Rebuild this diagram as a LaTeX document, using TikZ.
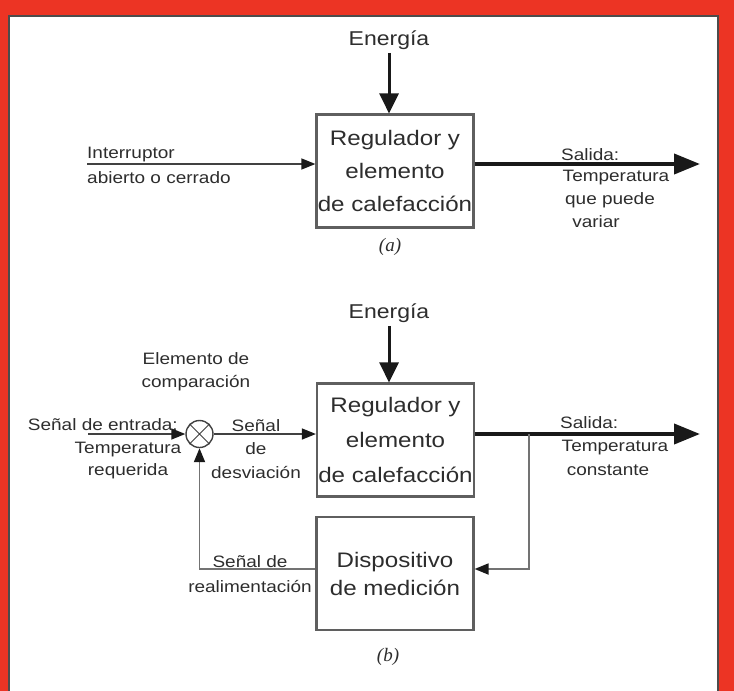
\documentclass[tikz,border=0pt]{standalone}
\usepackage{fontspec}
\setmainfont{Liberation Sans}[FakeStretch=1.15]
\newfontfamily\capfont{Liberation Serif}
\usetikzlibrary{arrows.meta}

\definecolor{framered}{RGB}{236,52,36}
\definecolor{ink}{RGB}{45,45,45}
\definecolor{wire}{RGB}{65,65,65}
\definecolor{boxline}{RGB}{95,95,95}
\definecolor{fbline}{RGB}{115,115,115}

\begin{document}
\begin{tikzpicture}[x=1pt,y=-1pt,
  block/.style={draw=boxline, line width=2.2pt, minimum width=157pt,
    minimum height=113pt, align=center, text=ink, inner sep=0pt},
  lbl/.style={text=ink, font=\fontsize{16.5}{22}\selectfont, inner sep=0pt, align=center},
  energy/.style={text=ink, font=\fontsize{20}{24}\selectfont},
  capt/.style={text=ink, font=\capfont\itshape\fontsize{19}{22}\selectfont},
  tip/.style={-{Triangle[length=14pt,width=11pt,color=black!90]}},
  thinarrow/.style={draw=wire, line width=1.4pt, tip},
  power/.style={draw=black!90, line width=3pt, -{Triangle[length=20pt,width=19pt]}},
  output/.style={draw=black!90, line width=4pt, -{Triangle[length=26pt,width=20pt]}},
  fb/.style={draw=fbline, line width=1.8pt}]

\useasboundingbox (0,0) rectangle (734,691);
\clip (0,0) rectangle (734,691);

% frame and panel
\fill[framered] (0,0) rectangle (734,691);
\filldraw[fill=white, draw=black!70, line width=2pt] (9,16) rectangle (718,700);

% ---------- (a) open loop ----------
\node[block, font=\fontsize{21}{33}\selectfont] (regA) at (395,171)
  {Regulador y\\elemento\\de calefacción};
\node[energy] (enA) at (389,40) {Energía};
\draw[power] (enA.south) -- (enA.south |- regA.north);

\coordinate (inA) at (87,164);
\draw[thinarrow] (inA) -- (inA -| regA.west);
\node[lbl, anchor=west] (swA) at (87,155) {Interruptor};
\node[lbl, anchor=west] (swB) at (87,178) {abierto o cerrado};

\coordinate (outA) at (700,164);
\draw[output] (regA.east |- outA) -- (outA);
\node[lbl, anchor=west] (salA) at (561,155) {Salida:};
\node[lbl] (tA1) at (616,178) {Temperatura};
\node[lbl] (tA2) at (610,200) {que puede};
\node[lbl] (tA3) at (596,222) {variar};

\node[capt] (capA) at (390,247) {(a)};

% ---------- (b) closed loop ----------
\node[block, font=\fontsize{21}{35}\selectfont] (regB) at (395.5,440)
  {Regulador y\\elemento\\de calefacción};
\node[energy] (enB) at (389,313) {Energía};
\draw[power] (enB.south) -- (enB.south |- regB.north);

\node[block, font=\fontsize{21}{28}\selectfont] (meas) at (395,573.5)
  {Dispositivo\\de medición};

% comparison element
\node[circle, draw=wire, line width=1.4pt, minimum size=27pt, inner sep=0pt]
  (sum) at (199.5,434) {};
\draw[wire, line width=1pt] (sum.45) -- (sum.225) (sum.135) -- (sum.315);
\node[lbl, font=\fontsize{16.5}{23}\selectfont] (cmp) at (196,372)
  {Elemento de\\comparación};

\coordinate (inB) at (88,434);
\draw[thinarrow] (inB) -- (sum.west);
\node[lbl, anchor=east] (entr) at (178,425) {Señal de entrada:};
\node[lbl] (treq) at (128,461) {Temperatura\\requerida};

\draw[thinarrow] (sum.east) -- (sum.east -| regB.west);
\node[lbl, font=\fontsize{16.5}{23.5}\selectfont] (desv) at (256,449)
  {Señal\\de\\desviación};

\coordinate (outB) at (700,434);
\draw[output] (regB.east |- outB) -- (outB);
\node[lbl, anchor=west] (salB) at (560,423) {Salida:};
\node[lbl] (tB1) at (615,448) {Temperatura};
\node[lbl] (tB2) at (608,470) {constante};

% feedback path
\coordinate (tap) at (529,434);
\coordinate (tapLow) at (529,569);
\draw[fb, tip] (tap) -- (tapLow) -- (tapLow -| meas.east);
\draw[fb, tip] (meas.west |- tapLow) -- (sum.south |- tapLow) -- (sum.south);
\node[lbl, font=\fontsize{16.5}{25}\selectfont] (real) at (250,574)
  {Señal de\\realimentación};

\node[capt] (capB) at (388,657) {(b)};
\end{tikzpicture}
\end{document}
